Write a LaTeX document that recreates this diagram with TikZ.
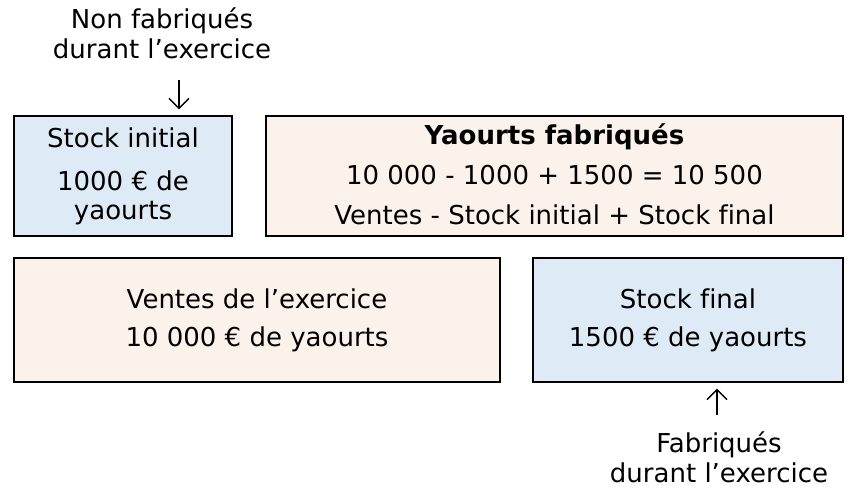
\documentclass[tikz,border=0pt]{standalone}
\usepackage{fontspec}
\setmainfont{DejaVu Sans}[Ligatures=CommonOff]
\usepackage{tikz}
\usetikzlibrary{arrows.meta}
\definecolor{stockblue}{HTML}{DEEBF7}
\definecolor{flowpeach}{HTML}{FBF2EC}
\tikzstyle{stockbox} = [rectangle, draw=black, line width=1.2pt, fill=stockblue, text centered, align=center, inner sep=0pt]
\tikzstyle{flowbox} = [rectangle, draw=black, line width=1.2pt, fill=flowpeach, text centered, align=center, inner sep=0pt]
\tikzstyle{note} = [align=center, inner sep=0pt]
\tikzstyle{arrow} = [line width=1.4pt,-{Straight Barb[length=10pt,width=20pt]}]

\begin{document}
\begin{tikzpicture}[x=1pt, y=-1pt, font=\fontsize{26}{29}\selectfont]
	\useasboundingbox (0,0) rectangle (857,495);
	\node (initial) [stockbox, minimum width=218pt, minimum height=120pt] at (123,176) {Stock initial\\[14pt]1000 € de\\yaourts};
	\node (fabrique) [flowbox, minimum width=577pt, minimum height=120pt] at (554.5,176) {\textbf{Yaourts fabriqués}\\[11pt]10 000 - 1000 + 1500 = 10 500\\[11pt]Ventes - Stock initial + Stock final\\[-26pt]};
	\node (ventes) [flowbox, minimum width=486pt, minimum height=124pt] at (257,320) {Ventes de l’exercice\\[9pt]10 000 € de yaourts};
	\node (final) [stockbox, minimum width=310pt, minimum height=124pt] at (688,320) {Stock final\\[9pt]1500 € de yaourts};

	\node (nonfab) [note] at (162,33) {Non fabriqués\\[1pt]durant l’exercice};
	\node (fab) [note] at (719,457) {Fabriqués\\[1pt]durant l’exercice};

	% fleches vers les stocks
	\coordinate (nfstart) at (179,80);
	\coordinate (fstart) at (717,415);
	\draw [arrow] (nfstart) -- ([yshift=6pt]initial.north -| nfstart);
	\draw [arrow] (fstart) -- ([yshift=-6pt]final.south -| fstart);
\end{tikzpicture}
\end{document}
